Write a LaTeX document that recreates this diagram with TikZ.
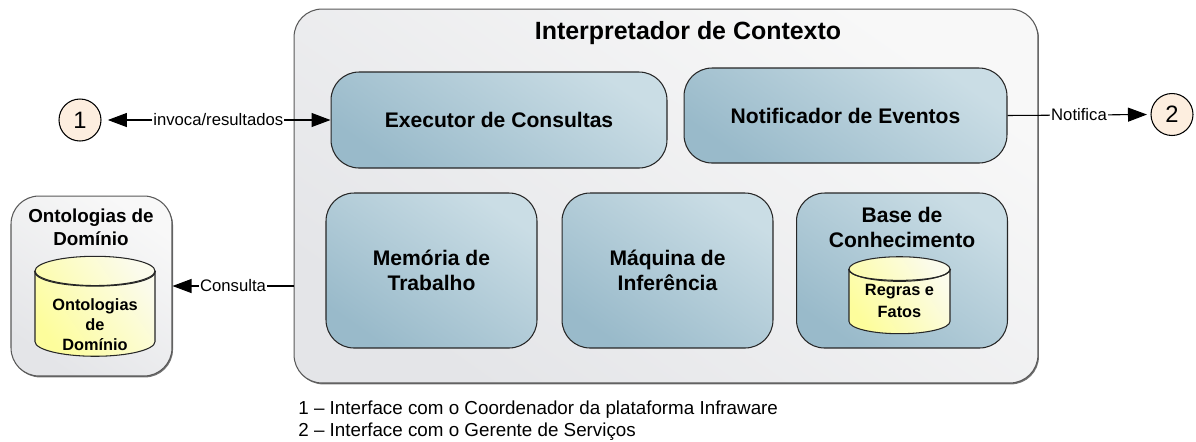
\documentclass[tikz,border=0pt]{standalone}
\usepackage{fontspec}
\setmainfont{Liberation Sans}
\usetikzlibrary{arrows.meta,shadows,shapes.geometric}
\tikzset{
  greybox/.style={draw=black!65,line width=0.6pt,rounded corners=0.56cm,left color=boxlow,right color=boxhigh,shading angle=145,
    drop shadow={shadow xshift=0.6pt,shadow yshift=-0.8pt,fill=black!55,opacity=1}},
  bluebox/.style={draw=black!85,line width=0.6pt,rounded corners=0.56cm,left color=bluelow,right color=bluehigh,shading angle=145,
    align=center,font=\fontsize{12}{14.2}\selectfont\bfseries},
  disk/.style={shape=cylinder,shape border rotate=90,aspect=2.5,draw=black!85,line width=0.6pt,
    left color=yellowlow,right color=yellowhigh,shading angle=125},
  diskrim/.style={draw=black!85,line width=0.6pt,out=-90,in=-90,looseness=0.43},
  disktext/.style={align=center,font=\fontsize{9.3}{11.4}\selectfont\bfseries},
  head/.style={align=center,font=\fontsize{10.7}{13}\selectfont\bfseries},
  iface/.style={shape=circle,draw=black,line width=0.6pt,fill=peach,minimum size=0.84cm,inner sep=0pt,font=\fontsize{13.5}{16}\selectfont},
  flow/.style={line width=0.6pt,-{Triangle[length=0.38cm,width=0.28cm]}},
  flowlabel/.style={fill=white,inner sep=0.5pt,font=\fontsize{9.5}{12}\selectfont},
  legend/.style={anchor=west,inner sep=0pt,font=\fontsize{10.7}{12}\selectfont}
}
\definecolor{boxlow}{HTML}{E4E5E8}
\definecolor{boxhigh}{HTML}{F8F8F8}
\definecolor{bluelow}{HTML}{99BACA}
\definecolor{bluehigh}{HTML}{CADDE5}
\definecolor{yellowlow}{HTML}{FDFD9C}
\definecolor{yellowhigh}{HTML}{FBFBEC}
\definecolor{peach}{HTML}{FDEEDF}
\begin{document}
\begin{tikzpicture}[x=0.02cm,y=-0.02cm]
  \useasboundingbox (0,0) rectangle (1196,441);

  \node[greybox,minimum width=14.88cm,minimum height=7.48cm] (frame) at (666,196) {};
  \node[greybox,minimum width=3.22cm,minimum height=3.6cm] (onto) at (91.5,286) {};

  \node[anchor=center,font=\fontsize{14.2}{17}\selectfont\bfseries] (frametitle) at (688,33) {Interpretador de Contexto};
  \node[head] (ontotitle) at (91,227) {Ontologias de\\Domínio};

  \node[bluebox,minimum width=6.72cm,minimum height=1.92cm] (executor) at (499,120) {Executor de Consultas};
  \node[bluebox,minimum width=6.46cm,minimum height=1.9cm] (notificador) at (845.5,115.5) {Notificador de Eventos};
  \node[bluebox,minimum width=4.22cm,minimum height=3.1cm] (memoria) at (431.5,270.5) {Memória de\\Trabalho};
  \node[bluebox,minimum width=4.22cm,minimum height=3.1cm] (maquina) at (667.5,270.5) {Máquina de\\Inferência};
  \node[bluebox,minimum width=4.22cm,minimum height=3.1cm] (base) at (902,270.5) {};
  \node[head,font=\fontsize{12}{14.2}\selectfont\bfseries] (basetitle) at (902,227) {Base de\\Conhecimento};

  \node[disk,minimum width=2.4cm,minimum height=2cm] (ontodisk) at (95,317) {};
  \draw[diskrim] (ontodisk.before top) to (ontodisk.after top);
  \node[disktext] (ontotext) at (95,325) {Ontologias\\de\\Domínio};
  \node[disk,minimum width=2.02cm,minimum height=1.54cm,aspect=2.1] (regras) at (899.5,304.5) {};
  \draw[diskrim,looseness=0.38] (regras.before top) to (regras.after top);
  \node[disktext,font=\fontsize{9.3}{12.5}\selectfont\bfseries] (regrastext) at (899.5,300.5) {Regras e\\Fatos};

  \node[iface] (one) at (80,120) {1};
  \node[iface] (two) at (1172,114.5) {2};

  \draw[flow,{Triangle[length=0.38cm,width=0.28cm]}-{Triangle[length=0.38cm,width=0.28cm]},shorten <=3.6pt] (one.east) -- (executor.west) node[flowlabel,pos=0.51] {invoca/resultados};
  \draw[flow] (frame.west |- onto.east) -- (onto.east) node[flowlabel,midway] {Consulta};
  \draw[flow,shorten >=2pt] (notificador.east) -- (two.west) node[flowlabel,midway] {Notifica};

  \node[legend] (legendone) at (298,410) {1 – Interface com o Coordenador da plataforma Infraware};
  \node[legend] (legendtwo) at (298,432) {2 – Interface com o Gerente de Serviços};
\end{tikzpicture}
\end{document}
